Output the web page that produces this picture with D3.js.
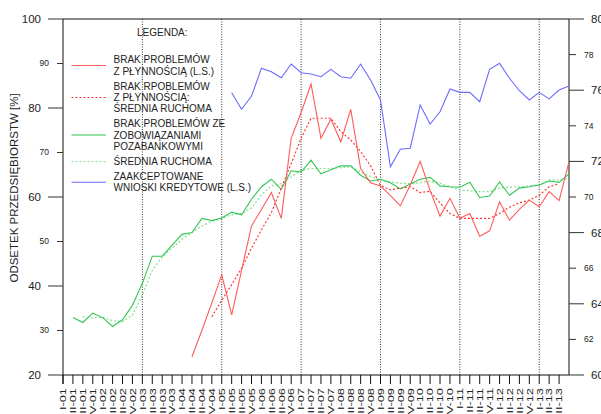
<!DOCTYPE html>
<html><head><meta charset="utf-8">
<script src="https://cdn.jsdelivr.net/npm/d3@7"></script>
<style>
html,body{margin:0;padding:0;background:#fff;overflow:hidden;}
svg{display:block;font-family:"Liberation Sans",Arial,sans-serif;}
</style></head>
<body>
<svg id="chart" width="601" height="414"></svg>
<script>
const quarters = ["I-01","II-01","III-01","IV-01","I-02","II-02","III-02","IV-02",
"I-03","II-03","III-03","IV-03","I-04","II-04","III-04","IV-04",
"I-05","II-05","III-05","IV-05","I-06","II-06","III-06","IV-06",
"I-07","II-07","III-07","IV-07","I-08","II-08","III-08","IV-08",
"I-09","II-09","III-09","IV-09","I-10","II-10","III-10","IV-10",
"I-11","II-11","III-11","IV-11","I-12","II-12","III-12","IV-12",
"I-13","II-13","III-13","IV-13"];
const labelledCount = 51;

const liquidity = [null,null,null,null,null,null,null,null,null,null,null,null,null,
24.1,30.0,36.2,42.5,33.5,43.5,53.5,57.2,61.0,55.2,73.2,
79.0,85.4,73.2,77.5,72.4,79.7,66.4,63.2,62.5,60.3,58.0,62.7,68.0,61.5,55.7,59.7,
55.2,56.3,51.2,52.4,58.9,54.8,57.2,59.3,57.8,61.2,59.2,67.9];

const liquidityMA = [null,null,null,null,null,null,null,null,null,null,null,null,null,null,null,
33.1,36.8,40.3,44.0,48.5,52.6,56.5,62.0,67.5,
73.2,77.7,77.7,77.7,74.7,72.8,70.2,67.0,62.6,61.6,62.0,62.3,61.0,61.3,58.6,56.3,
55.2,55.2,55.2,55.2,56.3,57.7,58.7,59.3,60.4,62.3,63.0,null];

const obligations = [null,32.9,31.8,33.9,32.9,30.9,32.4,35.7,40.6,46.7,46.7,49.2,51.6,
52.0,55.2,54.7,55.3,56.6,56.0,59.5,62.3,64.0,61.7,65.9,
65.6,68.3,65.2,66.1,67.0,67.0,64.9,63.6,64.0,63.2,61.8,62.9,64.0,64.4,62.5,62.3,
62.2,63.3,59.9,60.2,63.4,60.4,62.0,62.3,62.7,63.6,63.3,65.2];

const obligationsMA = [null,null,33.1,32.8,33.0,32.2,32.0,33.5,38.0,43.5,46.5,48.5,50.5,
52.0,53.5,54.5,55.2,56.0,56.3,57.5,60.5,62.5,63.0,64.5,
66.0,66.4,66.4,66.4,66.6,66.8,65.6,64.6,63.8,63.4,63.1,63.0,63.2,63.6,63.1,62.3,
61.6,61.4,61.2,61.2,62.0,62.2,62.3,62.5,62.7,63.8,63.8,64.2];

const credit = [null,null,null,null,null,null,null,null,null,null,null,null,null,null,null,null,null,
75.86,74.93,75.67,77.23,77.04,76.70,77.47,
76.98,76.91,76.76,77.17,76.76,76.67,77.46,76.57,75.45,71.70,72.68,72.74,75.17,74.10,74.79,76.07,
75.88,75.88,75.35,77.17,77.51,76.67,75.97,75.45,75.88,75.51,76.01,76.24];

const leftTicksMajor = [20,40,60,80,100];
const leftTicksMinor = [30,50,70,90];
const rightTicksMajor = [60,64,68,72,76,80];
const rightTicksMinor = [62,66,70,74,78];
const yearStarts = ["I-03","I-05","I-07","I-09","I-11","I-13"];

const legendItems = [
  {lines:["BRAK PROBLEMÓW","Z PŁYNNOŚCIĄ (L.S.)"], color:"#ff5a5a", dash:null},
  {lines:["BRAK RPOBLEMÓW","Z PŁYNNOŚCIĄ:","ŚREDNIA RUCHOMA"], color:"#ff3333", dash:"2,2"},
  {lines:["BRAK PROBLEMÓW ZE","ZOBOWIĄZANIAMI","POZABANKOWYMI"], color:"#33c653", dash:null},
  {lines:["ŚREDNIA RUCHOMA"], color:"#7fe08f", dash:"2,2"},
  {lines:["ZAAKCEPTOWANE","WNIOSKI KREDYTOWE (L.S.)"], color:"#6b6bff", dash:null}
];

const svg = d3.select("#chart");
const L = 63, R = 569, T = 19, B = 375;
const x = d3.scaleLinear().domain([0, quarters.length-1]).range([L, R]);
const yL = d3.scaleLinear().domain([20,100]).range([B, T]);
const yR = d3.scaleLinear().domain([60,80]).range([B, T]);

// vertical dotted year lines
svg.append("g").selectAll("line").data(yearStarts).join("line")
  .attr("x1", d => x(quarters.indexOf(d))).attr("x2", d => x(quarters.indexOf(d)))
  .attr("y1", T).attr("y2", B)
  .attr("stroke","#333").attr("stroke-width",1).attr("stroke-dasharray","1,1.5");

// frame: top line, left and right axis
svg.append("line").attr("x1",L).attr("x2",R).attr("y1",T).attr("y2",T).attr("stroke","#111");
svg.append("line").attr("x1",L).attr("x2",L).attr("y1",T).attr("y2",B+9).attr("stroke","#111");
svg.append("line").attr("x1",R).attr("x2",R).attr("y1",T).attr("y2",B).attr("stroke","#111");
svg.append("line").attr("x1",L).attr("x2",R).attr("y1",B).attr("y2",B).attr("stroke","#111");

// left axis ticks
const gl = svg.append("g");
gl.selectAll(".maj").data(leftTicksMajor).join("line")
  .attr("x1",48).attr("x2",L).attr("y1",d=>yL(d)).attr("y2",d=>yL(d)).attr("stroke","#333");
gl.selectAll(".majt").data(leftTicksMajor).join("text")
  .attr("x",41).attr("y",d=>yL(d)).attr("dy","0.35em").attr("text-anchor","end")
  .attr("font-size",11.5).attr("fill","#222").text(d=>d);
gl.selectAll(".min").data(leftTicksMinor).join("line")
  .attr("x1",57).attr("x2",L).attr("y1",d=>yL(d)).attr("y2",d=>yL(d)).attr("stroke","#333");
gl.selectAll(".mint").data(leftTicksMinor).join("text")
  .attr("x",49).attr("y",d=>yL(d)).attr("dy","0.35em").attr("text-anchor","end")
  .attr("font-size",8.5).attr("fill","#222").text(d=>d);

// right axis ticks
const gr = svg.append("g");
gr.selectAll(".maj").data(rightTicksMajor).join("line")
  .attr("x1",R).attr("x2",584).attr("y1",d=>yR(d)).attr("y2",d=>yR(d)).attr("stroke","#333");
gr.selectAll(".majt").data(rightTicksMajor).join("text")
  .attr("x",591).attr("y",d=>yR(d)).attr("dy","0.35em").attr("text-anchor","start")
  .attr("font-size",11.5).attr("fill","#222").text(d=>d);
gr.selectAll(".min").data(rightTicksMinor).join("line")
  .attr("x1",R).attr("x2",576).attr("y1",d=>yR(d)).attr("y2",d=>yR(d)).attr("stroke","#333");
gr.selectAll(".mint").data(rightTicksMinor).join("text")
  .attr("x",584).attr("y",d=>yR(d)).attr("dy","0.35em").attr("text-anchor","start")
  .attr("font-size",8.5).attr("fill","#222").text(d=>d);

// x axis ticks & labels
const idx = d3.range(labelledCount);
svg.append("g").selectAll("line").data(idx).join("line")
  .attr("x1",d=>x(d)).attr("x2",d=>x(d)).attr("y1",B).attr("y2",B+9).attr("stroke","#111");
svg.append("g").selectAll("text").data(idx).join("text")
  .attr("transform",d=>`translate(${x(d)+3.3},388) rotate(-90) scale(1.35,1)`)
  .attr("text-anchor","end").attr("font-size",9.5).attr("fill","#222")
  .text(d=>quarters[d]);

// y axis title
svg.append("text").attr("transform","translate(18,188) rotate(-90)")
  .attr("text-anchor","middle").attr("font-size",11.5).attr("fill","#222")
  .text("ODSETEK PRZEDSIĘBIORSTW [%]");

// series
function draw(data, scale, color, dash, width){
  const line = d3.line().defined(d=>d!=null).x((d,i)=>x(i)).y(d=>scale(d));
  svg.append("path").datum(data).attr("d",line).attr("fill","none")
    .attr("stroke",color).attr("stroke-width",width||1.1)
    .attr("stroke-dasharray",dash||null);
}
draw(obligationsMA, yL, "#7fe08f", "2,2", 1.2);
draw(obligations, yL, "#33c653", null, 1.1);
draw(liquidityMA, yL, "#ff3333", "2,2", 1.2);
draw(liquidity, yL, "#ff5a5a", null, 1.1);
draw(credit, yR, "#6b6bff", null, 1.1);

// legend
const lg = svg.append("g");
lg.append("text").attr("x",137).attr("y",36).attr("font-size",10).attr("fill","#222").text("LEGENDA:");
const lineH = 11.2;
const itemY = [65.5, 97.5, 135, 161.7, 182.3];
legendItems.forEach((it,k)=>{
  const cy = itemY[k];
  lg.append("line").attr("x1",71.5).attr("x2",106).attr("y1",cy).attr("y2",cy)
    .attr("stroke",it.color).attr("stroke-width",1.1).attr("stroke-dasharray",it.dash);
  const n = it.lines.length;
  it.lines.forEach((t,j)=>{
    lg.append("text").attr("x",113.5).attr("y",cy + (j-(n-1)/2)*lineH)
      .attr("dy","0.35em").attr("font-size",10).attr("fill","#222").text(t);
  });
});
</script>
</body></html>
